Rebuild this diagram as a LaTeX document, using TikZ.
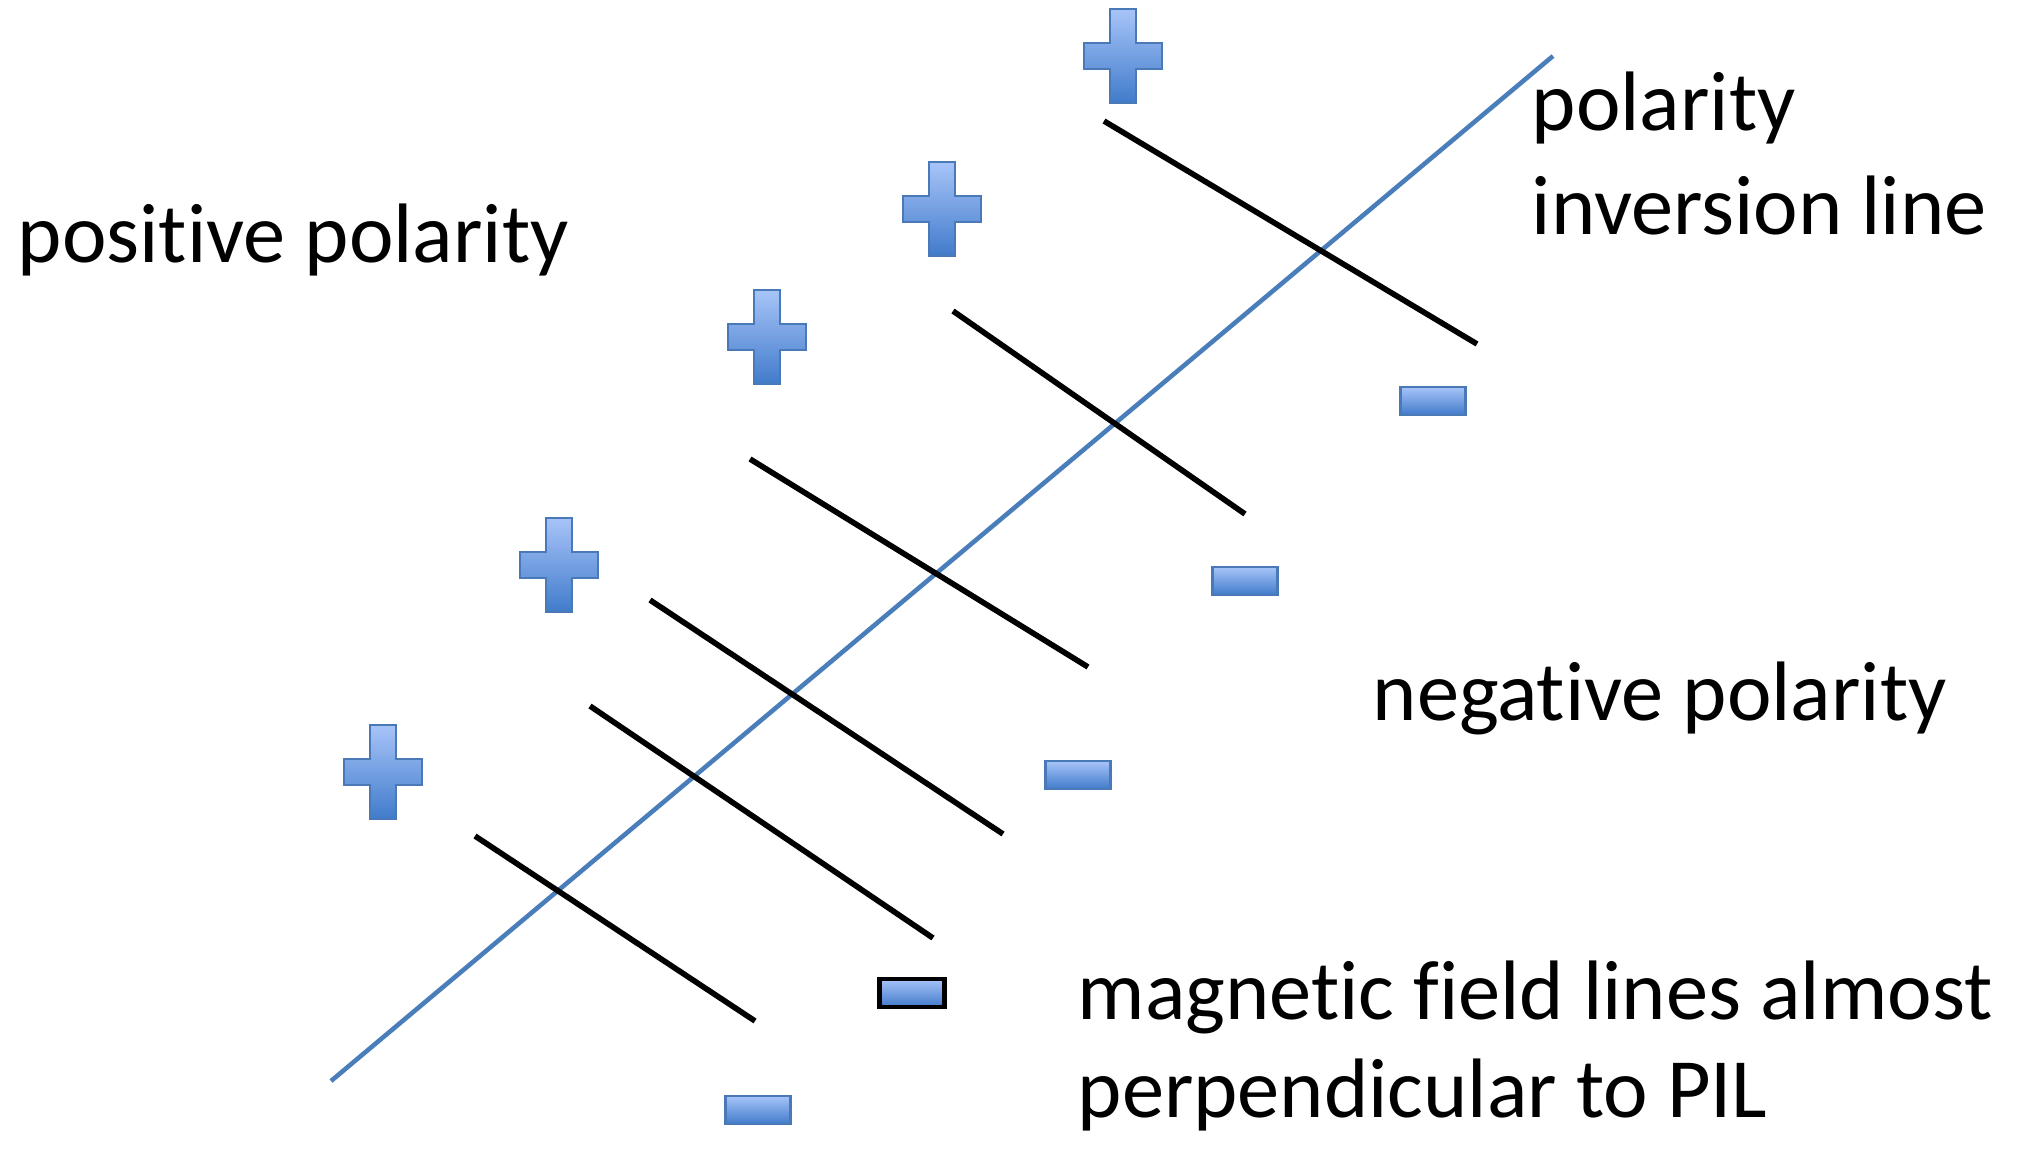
\documentclass[tikz,border=0pt]{standalone}
\usepackage{fontspec}
\setmainfont[Ligatures=NoCommon]{Carlito}
\usetikzlibrary{positioning}

\definecolor{pilblue}{HTML}{4A7EBB}
\definecolor{chargetop}{HTML}{A7C4F8}
\definecolor{chargebottom}{HTML}{417BCB}
\definecolor{chargeedge}{HTML}{4A79B8}

% keeps t-i and f-i apart (no ligature)
\newcommand{\nolig}{\kern0pt }

\tikzset{
  pics/plussign/.style={code={
    \path[charge] (-13,-47) -- (13,-47) -- (13,-13) -- (39,-13) -- (39,13) -- (13,13)
      -- (13,47) -- (-13,47) -- (-13,13) -- (-39,13) -- (-39,-13) -- (-13,-13) -- cycle;
  }}
}

\begin{document}
\begin{tikzpicture}[x=0.01cm, y=-0.01cm,
    txt/.style={font=\fontsize{24}{30}\selectfont, inner sep=0pt, anchor=base west},
    pil/.style={draw=pilblue, line width=1.3pt},
    fieldline/.style={draw=black, line width=1.6pt},
    charge/.style={draw=chargeedge, line width=0.8pt, top color=chargetop, bottom color=chargebottom},
    minusbox/.style={charge, rectangle, minimum width=0.65cm, minimum height=0.28cm, inner sep=0pt}
]
\useasboundingbox (0,0) rectangle (2035,1151);

% polarity inversion line
\draw[pil] (331,1081) -- (1553,56);

% field lines crossing the PIL
\foreach \xa/\ya/\xb/\yb in {1104/121/1477/344, 953/311/1245/514, 750/459/1088/667,
                             650/600/1003/834, 590/706/933/938, 475/836/755/1021}
  \draw[fieldline] (\xa,\ya) -- (\xb,\yb);

% positive side
\foreach \px/\py [count=\i] in {1123/56, 942/209, 767/337, 559/565, 383/772}
  \pic (plus\i) at (\px,\py) {plussign};

% negative side
\foreach \mx/\my [count=\i] in {1433/401, 1245/581, 1078/775, 758/1110}
  \node[minusbox] (minus\i) at (\mx,\my) {};
\node[minusbox, draw=black, line width=1.4pt] (minus5) at (912,993) {};

% labels
\node[txt] (pos) at (17,262) {posit\nolig ive polarity};
\node[txt] (piltop) at (1531,130) {polarity};
\node[txt] (pilbot) at (1531,234) {inversion line};
\node[txt] (neg) at (1372,720) {negat\nolig ive polarity};
\node[txt] (fieldtop) at (1077,1019) {magnet\nolig ic f\nolig ield lines almost};
\node[txt] (fieldbot) at (1077,1117) {perpendicular to PIL};
\end{tikzpicture}
\end{document}
